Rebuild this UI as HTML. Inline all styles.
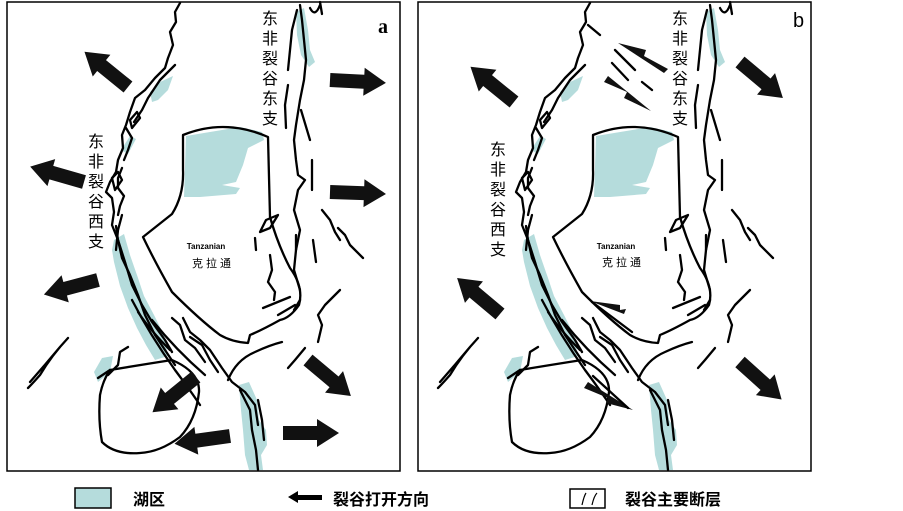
<!DOCTYPE html>
<html><head><meta charset="utf-8"><style>
html,body{margin:0;padding:0;background:#fff;}
svg{display:block;}
.cn{font-family:"Liberation Sans","Noto Sans CJK SC",sans-serif;}
</style></head><body>
<svg width="903" height="511" viewBox="0 0 903 511" xmlns="http://www.w3.org/2000/svg">
<defs>
<g id="base">
  <g fill="#b5dcdc" stroke="none">
    <path d="M186,136 L240,127 L262,132 L264,140 L248,148 L243,165 L236,182 L222,185 L240,188 L236,194 L200,197 L184,197 Z"/>
    <path d="M296,12 L304,8 L308,30 L310,50 L315,62 L309,67 L301,55 L297,35 Z"/>
    <path d="M150,92 L160,82 L173,76 L168,90 L158,100 L152,102 Z"/>
    <path d="M121,150 L130,136 L136,139 L128,154 Z"/>
    <path d="M114,240 L124,234 L130,255 L138,278 L144,296 L154,315 L164,335 L168,356 L155,360 L146,345 L137,328 L128,308 L120,286 L114,262 L112,250 Z"/>
    <path d="M94,372 L102,358 L113,356 L110,372 L98,382 Z"/>
    <path d="M239,385 L249,382 L257,400 L259,420 L266,430 L267,445 L261,455 L263,470 L249,470 L245,455 L243,430 L241,410 Z"/>
  </g>
  <g fill="none" stroke="#000" stroke-width="2.3" stroke-linejoin="round" stroke-linecap="round">
    <path d="M183,135 Q225,118 268,137 L270,217 Q278,245 290,268 Q304,287 299,305 Q290,318 280,320 Q262,330 250,335 L248,343 Q232,342 220,335 Q200,320 172,292 Q155,262 143,237 L172,214 Q184,195 183,170 Z"/>
    <path d="M110,370 Q140,365 172,360 Q200,372 199,392 Q196,420 180,437 Q160,452 140,453 Q115,455 102,442 Q98,420 100,395 Q103,380 110,370"/>
    <path d="M180,3 L175,12 L176,22 L170,32 L173,45 L168,58 L165,68 L155,78 L145,90 L135,98 L130,112 L126,125 L122,135 L123,148 L118,160 L116,172 L110,182 L106,192 L112,198 L114,212 L112,225 L118,240 L122,258 L130,275 L138,295 L145,315 L155,335 L165,350 L175,365"/>
    <path d="M175,65 L160,80 L148,98 L142,110 L134,122 M126,128 L132,138 L128,150 L124,160 M122,168 L118,178 L118,188 L124,196 L120,206 L118,215 M116,226 L118,240 L125,262 L132,285 L142,305 L152,322 L165,340 L172,352"/>
    <path d="M130,120 L137,112 L140,118 L132,128 Z"/>
    <path d="M112,178 L118,172 L122,180 L115,190 Z"/>
    <path d="M122,215 L118,230 L116,250"/>
    <path d="M132,300 Q150,335 175,370 Q190,390 200,405"/>
    <path d="M152,320 Q176,350 205,375"/>
    <path d="M138,312 Q150,330 170,350"/>
    <path d="M172,318 L180,325 L185,340 L195,348 L205,362"/>
    <path d="M183,318 L190,332 L200,340 L210,350 L222,368 L232,382 L245,392 L255,405 L258,425"/>
    <path d="M190,337 L202,345 L210,360 L218,372"/>
    <path d="M228,380 Q236,360 255,352 Q270,345 282,342"/>
    <path d="M263,308 L290,297 M278,315 L295,305"/>
    <path d="M240,390 L250,410 L252,430 L256,450 L258,470"/>
    <path d="M258,400 L262,420 L264,440"/>
    <path d="M128,347 L120,352 L118,365 L108,375 M110,370 L98,378"/>
    <path d="M60,347 Q45,365 30,382 M68,338 Q52,355 40,375 Q33,383 28,388"/>
    <path d="M297,10 L292,30 L290,50 L288,70 M300,5 L302,20 L304,40 L306,60 L304,80 L300,100 L296,125 L294,140 L296,160 L298,175 L305,180 L298,190 L294,210 L300,230 L296,250 L294,270 L300,290 M300,300 L294,310"/>
    <path d="M310,8 Q315,18 320,5 M320,2 L322,14"/>
    <path d="M288,85 L285,105 L286,128 M301,110 L310,140 M312,160 L312,190 M296,235 L296,250 M313,240 L316,262"/>
    <path d="M260,232 L266,220 L278,215 L270,228 Z"/>
    <path d="M255,238 L256,250 M270,255 L272,270 L268,282 L275,292 L274,300"/>
    <path d="M322,210 L330,220 L335,232 L340,240 M338,228 L345,235 L350,245 L363,258"/>
    <path d="M340,290 L325,305 L318,315 L322,325 L318,342 M305,348 L295,360 L288,368"/>
  </g>
</g>
<g id="arr"><polygon points="0,-7 34,-7 34,-14 56,0 34,14 34,7 0,7"/></g>
</defs>

<rect x="7" y="2" width="393" height="469" fill="none" stroke="#000" stroke-width="1.5"/>
<use href="#base"/>
<g fill="#111">
  <use href="#arr" transform="translate(128,87) rotate(-141)"/>
  <use href="#arr" transform="translate(84,182) rotate(-164)"/>
  <use href="#arr" transform="translate(98,280) rotate(165)"/>
  <use href="#arr" transform="translate(196,377) rotate(141)"/>
  <use href="#arr" transform="translate(230,436) rotate(172)"/>
  <use href="#arr" transform="translate(283,433) rotate(0)"/>
  <use href="#arr" transform="translate(308,360) rotate(40)"/>
  <use href="#arr" transform="translate(330,80) rotate(3)"/>
  <use href="#arr" transform="translate(330,192) rotate(2)"/>
</g>
<text x="378" y="33" font-family="Liberation Serif,serif" font-weight="bold" font-size="20">a</text>
<g class="cn" font-size="16" text-anchor="middle">
  <text x="270" y="24">东</text><text x="270" y="44">非</text><text x="270" y="64">裂</text><text x="270" y="84">谷</text><text x="270" y="104">东</text><text x="270" y="124">支</text>
  <text x="96" y="147">东</text><text x="96" y="167">非</text><text x="96" y="187">裂</text><text x="96" y="207">谷</text><text x="96" y="227">西</text><text x="96" y="247">支</text>
</g>
<text x="206" y="249" text-anchor="middle" font-family="Liberation Sans,sans-serif" font-weight="bold" font-size="8">Tanzanian</text>
<text x="213" y="267" text-anchor="middle" class="cn" font-size="11" letter-spacing="3">克拉通</text>

<rect x="418" y="2" width="393" height="469" fill="none" stroke="#000" stroke-width="1.5"/>
<use href="#base" transform="translate(410,0)"/>
<g fill="#111">
  <use href="#arr" transform="translate(514,102) rotate(-141)"/>
  <use href="#arr" transform="translate(500,314) rotate(-140)"/>
  <use href="#arr" transform="translate(740,62) rotate(40)"/>
  <use href="#arr" transform="translate(740,362) rotate(42)"/>
  <polygon points="664,73 618,43 646,50 644,56 668,69"/>
  <polygon points="608,76 651,111 624,98 627,92 604,82"/>
  <polygon points="624,314 590,301 620,305 620,310 626,309"/>
  <polygon points="588,382 633,410 606,403 608,398 584,388"/>
</g>
<g fill="none" stroke="#000" stroke-width="2.3" stroke-linecap="round">
  <path d="M588,25 L600,35 M615,50 L635,70 M642,82 L652,90 M612,63 L628,80"/>
  <path d="M592,302 L632,332 M593,376 L628,408"/>
</g>
<text x="793" y="27" font-family="Liberation Sans,sans-serif" font-size="20">b</text>
<g class="cn" font-size="16" text-anchor="middle">
  <text x="680" y="24">东</text><text x="680" y="44">非</text><text x="680" y="64">裂</text><text x="680" y="84">谷</text><text x="680" y="104">东</text><text x="680" y="124">支</text>
  <text x="498" y="155">东</text><text x="498" y="175">非</text><text x="498" y="195">裂</text><text x="498" y="215">谷</text><text x="498" y="235">西</text><text x="498" y="255">支</text>
</g>
<text x="616" y="249" text-anchor="middle" font-family="Liberation Sans,sans-serif" font-weight="bold" font-size="8">Tanzanian</text>
<text x="623" y="266" text-anchor="middle" class="cn" font-size="11" letter-spacing="3">克拉通</text>

<rect x="75" y="488" width="36" height="20" fill="#b5dcdc" stroke="#000" stroke-width="1.5"/>
<text x="133" y="505" class="cn" font-weight="bold" font-size="16">湖区</text>
<polygon points="288,497 298,491 298,495 322,495 322,500 298,500 298,503" fill="#000"/>
<text x="333" y="505" class="cn" font-weight="bold" font-size="16">裂谷打开方向</text>
<rect x="570" y="489" width="35" height="19" fill="none" stroke="#000" stroke-width="1.5"/>
<path d="M582,505 Q584,496 586,493 M592,505 Q594,496 597,493" fill="none" stroke="#000" stroke-width="1.2"/>
<text x="625" y="505" class="cn" font-weight="bold" font-size="16">裂谷主要断层</text>
</svg>
</body></html>
